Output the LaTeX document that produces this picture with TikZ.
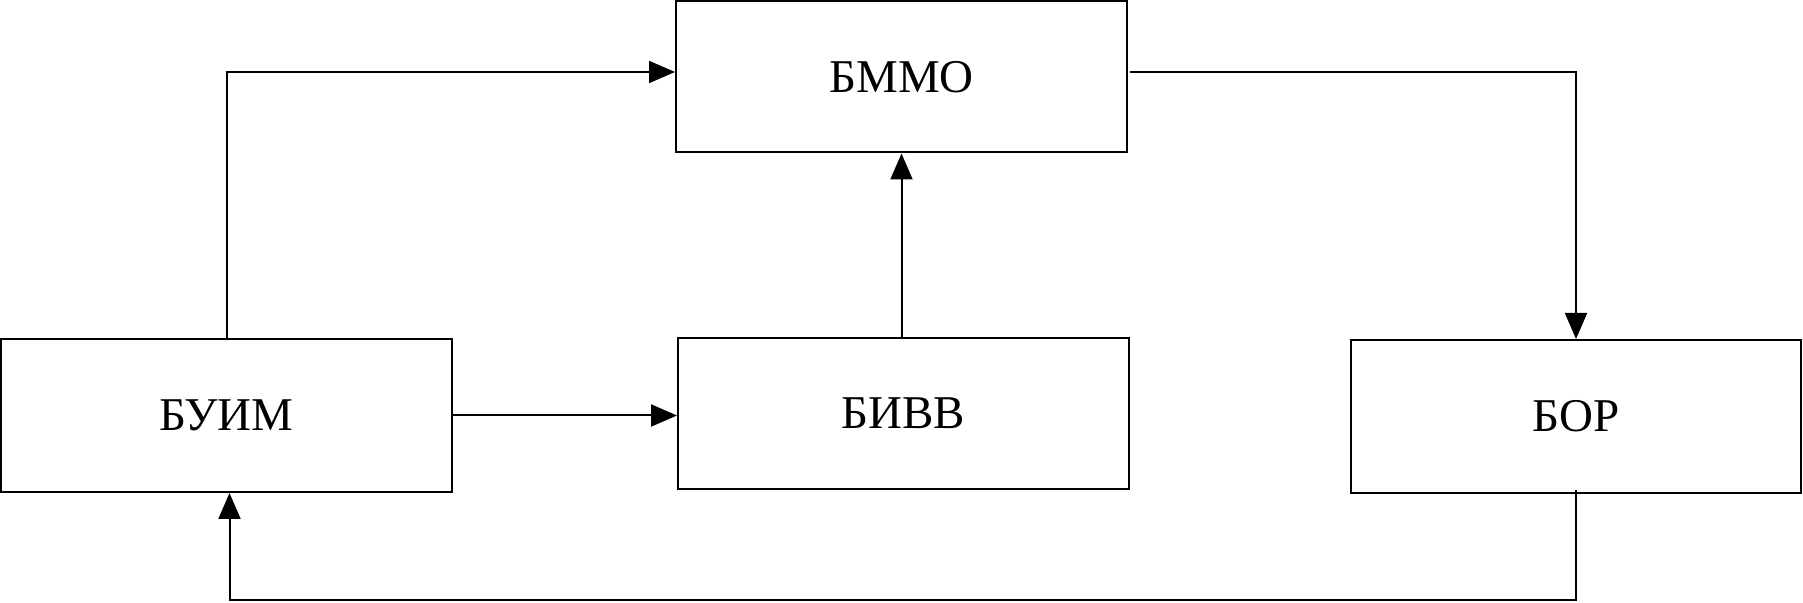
\documentclass[tikz,border=0pt]{standalone}
\usepackage{fontspec}
\setmainfont{Liberation Serif}
\usetikzlibrary{arrows.meta}

\begin{document}
\begin{tikzpicture}[x=0.5pt, y=-0.5pt, line width=1pt,
	bloco/.style={draw, rectangle, minimum width=225.5pt, minimum height=75.5pt, inner sep=0pt,
		font=\fontsize{23.5}{28}\selectfont},
	seta/.style={-{Triangle[length=13pt, width=11pt]}}]
		% os blocos
			\useasboundingbox (0,0) rectangle (1803,603);
			\node[bloco] (bmmo) at (901.5,77) {БММО};
			\node[bloco, minimum height=76.5pt] (buim) at (226.5,415.5) {БУИМ};
			\node[bloco] (bivv) at (903.5,413.5) {БИВВ};
			\node[bloco, minimum height=76.5pt, minimum width=225pt] (bor) at (1576,416.5) {БОР};
			\coordinate (baixo) at (0,600);

		% as ligações
			\draw[seta] (buim.north) |- ([yshift=2.5pt]bmmo.west);
			\draw[seta] (buim.east) -- (buim.east -| bivv.west);
			\draw[seta] (bmmo.south |- bivv.north) -- (bmmo.south);
			\draw[seta] ([xshift=1pt, yshift=2.5pt]bmmo.east) -| (bor.north);
			\draw[seta] ([yshift=2pt]bor.south) -- (bor.south |- baixo) -| ([xshift=1.5pt]buim.south);
	\end{tikzpicture}
\end{document}
